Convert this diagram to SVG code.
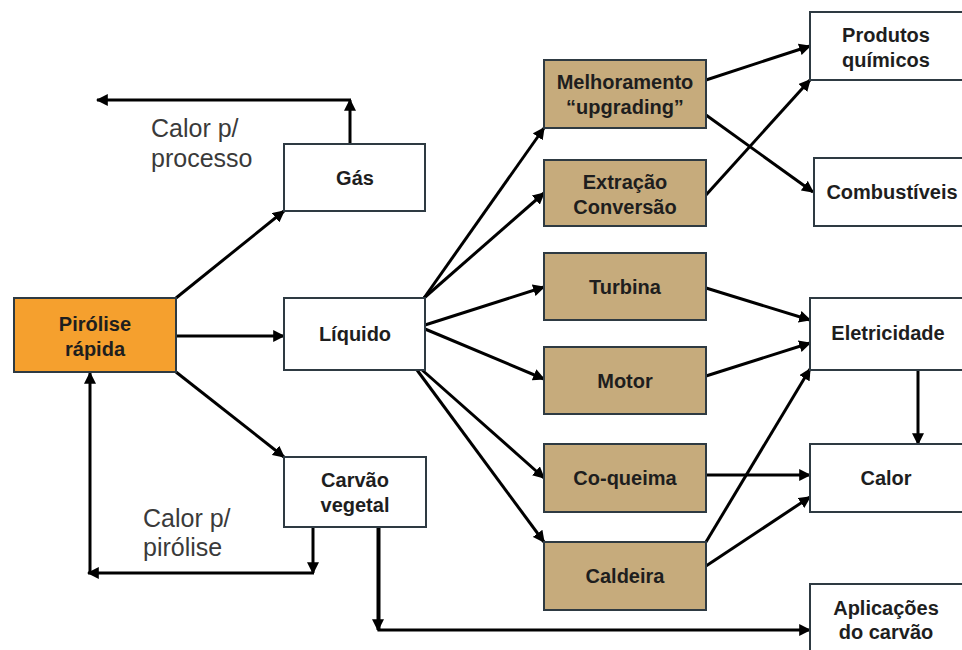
<svg xmlns="http://www.w3.org/2000/svg" width="962" height="650" viewBox="0 0 962 650">
<defs>
<marker id="ah" viewBox="0 0 10 10" refX="9" refY="5" markerWidth="4" markerHeight="4" markerUnits="strokeWidth" orient="auto">
<path d="M0,0 L10,5 L0,10 z" fill="#000"/>
</marker>
<style>
.box{stroke:#2e3a42;stroke-width:2}
.w{fill:#fff}
.b{fill:#c6ab7c}
.o{fill:#f5a02e}
.t{font-family:"Liberation Sans",Arial,sans-serif;font-weight:bold;font-size:20px;fill:#1e1e1e;text-anchor:middle}
.l{font-family:"Liberation Sans",Arial,sans-serif;font-size:25px;fill:#3a3a3a}
.c{fill:none;stroke:#000;stroke-width:3;marker-end:url(#ah)}
.n{fill:none;stroke:#000;stroke-width:3}
</style>
</defs>
<rect width="962" height="650" fill="#fff"/>
<g id="connectors">
<line class="c" x1="176" y1="298" x2="284" y2="211"/>
<line class="c" x1="176" y1="336" x2="284" y2="336"/>
<line class="c" x1="176" y1="372" x2="284" y2="457"/>
<line class="c" x1="350" y1="144" x2="350" y2="100"/>
<line class="c" x1="351" y1="100" x2="97" y2="100"/>
<line class="c" x1="313" y1="527" x2="313" y2="573"/>
<line class="c" x1="314" y1="573" x2="88" y2="573"/>
<line class="c" x1="90" y1="573" x2="90" y2="373"/>
<polyline class="c" points="379,527 379,630 810,630"/>
<line class="c" x1="378" y1="527" x2="378" y2="630"/>
<line class="c" x1="424" y1="298" x2="544" y2="128"/>
<line class="c" x1="424" y1="298" x2="544" y2="193"/>
<line class="c" x1="425" y1="325" x2="544" y2="287"/>
<line class="c" x1="425" y1="329" x2="544" y2="379"/>
<line class="c" x1="421" y1="369" x2="544" y2="478"/>
<line class="c" x1="417" y1="370" x2="544" y2="542"/>
<line class="c" x1="706" y1="80" x2="810" y2="46"/>
<line class="c" x1="706" y1="115" x2="813" y2="192"/>
<line class="c" x1="706" y1="195" x2="810" y2="80"/>
<line class="c" x1="706" y1="288" x2="810" y2="320"/>
<line class="c" x1="706" y1="376" x2="810" y2="343"/>
<line class="c" x1="706" y1="542" x2="810" y2="369"/>
<line class="c" x1="706" y1="475" x2="810" y2="475"/>
<line class="c" x1="706" y1="566" x2="810" y2="497"/>
<line class="c" x1="918" y1="370" x2="918" y2="444"/>
</g>
<g id="labels">
<text class="l" x="151" y="137">Calor p/</text>
<text class="l" x="151" y="167">processo</text>
<text class="l" x="143" y="527">Calor p/</text>
<text class="l" x="143" y="556">pirólise</text>
</g>
<g id="pirolise"><rect class="box o" x="14" y="298" width="162" height="74"/><text class="t" x="95" y="331">Pirólise</text><text class="t" x="95" y="356">rápida</text></g>
<g id="gas"><rect class="box w" x="284" y="144" width="141" height="67"/><text class="t" x="355" y="185">Gás</text></g>
<g id="liquido"><rect class="box w" x="284" y="298" width="141" height="72"/><text class="t" x="355" y="341">Líquido</text></g>
<g id="carvao"><rect class="box w" x="284" y="457" width="142" height="70"/><text class="t" x="355" y="487">Carvão</text><text class="t" x="355" y="512">vegetal</text></g>
<g id="melhoramento"><rect class="box b" x="544" y="60" width="162" height="68"/><text class="t" x="625" y="89">Melhoramento</text><text class="t" x="625" y="114">“upgrading”</text></g>
<g id="extracao"><rect class="box b" x="544" y="160" width="162" height="66"/><text class="t" x="625" y="189">Extração</text><text class="t" x="625" y="214">Conversão</text></g>
<g id="turbina"><rect class="box b" x="544" y="253" width="162" height="67"/><text class="t" x="625" y="294">Turbina</text></g>
<g id="motor"><rect class="box b" x="544" y="347" width="162" height="67"/><text class="t" x="625" y="388">Motor</text></g>
<g id="coqueima"><rect class="box b" x="544" y="444" width="162" height="68"/><text class="t" x="625" y="485">Co-queima</text></g>
<g id="caldeira"><rect class="box b" x="544" y="542" width="162" height="68"/><text class="t" x="625" y="583">Caldeira</text></g>
<g id="produtos"><rect class="box w" x="810" y="12" width="160" height="68"/><text class="t" x="886" y="42">Produtos</text><text class="t" x="886" y="67">químicos</text></g>
<g id="combustiveis"><rect class="box w" x="814" y="158" width="160" height="68"/><text class="t" x="892" y="199">Combustíveis</text></g>
<g id="eletricidade"><rect class="box w" x="810" y="298" width="160" height="72"/><text class="t" x="888" y="340">Eletricidade</text></g>
<g id="calor"><rect class="box w" x="810" y="444" width="160" height="68"/><text class="t" x="886" y="485">Calor</text></g>
<g id="aplicacoes"><rect class="box w" x="810" y="584" width="160" height="70"/><text class="t" x="886" y="615">Aplicações</text><text class="t" x="886" y="639">do carvão</text></g>
</svg>
